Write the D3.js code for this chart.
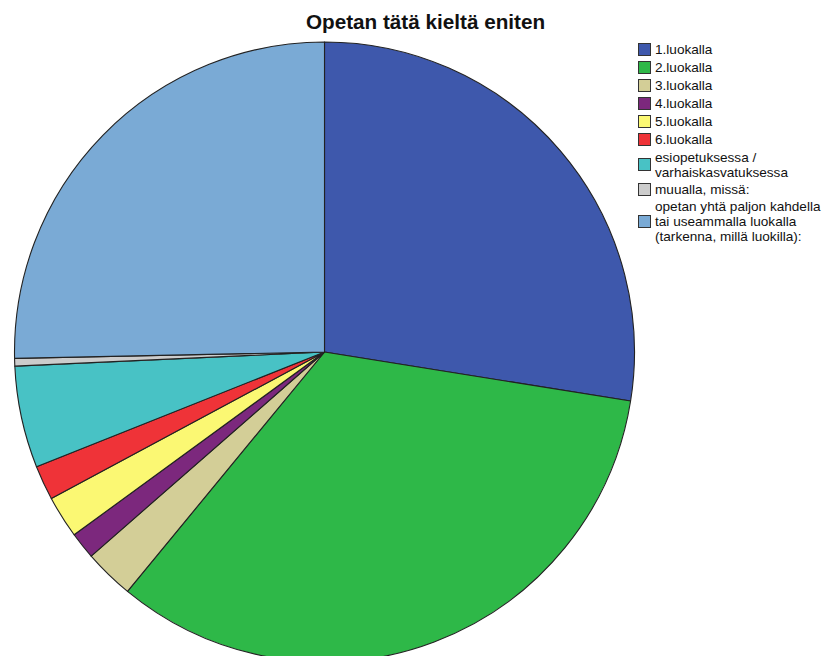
<!DOCTYPE html>
<html>
<head>
<meta charset="utf-8">
<script src="https://cdn.jsdelivr.net/npm/d3@7"></script>
<style>
  body { margin: 0; background: #fff; }
  svg { display: block; font-family: "Liberation Sans", Arial, sans-serif; }
</style>
</head>
<body>
<script>
// data (share of answers, %)
const categories = [
  "1.luokalla",
  "2.luokalla",
  "3.luokalla",
  "4.luokalla",
  "5.luokalla",
  "6.luokalla",
  "esiopetuksessa /\nvarhaiskasvatuksessa",
  "muualla, missä:",
  "opetan yhtä paljon kahdella\ntai useammalla luokalla\n(tarkenna, millä luokilla):"
];
const values = [27.5, 33.4, 2.6, 1.4, 2.2, 1.8, 5.3, 0.4, 25.3];
const colors = ["#3e58ac", "#2eb848", "#d3ce97", "#7c287d", "#fbf873", "#ef3338", "#48c2c5", "#cccccc", "#7aaad5"];

const width = 835, height = 656;
const cx = 324.5, cy = 352, r = 310;

const svg = d3.select("body").append("svg")
    .attr("width", width)
    .attr("height", height);

const data = categories.map((c, i) => ({ name: c, value: values[i], color: colors[i] }));

const pie = d3.pie().sort(null).value(d => d.value);
const arc = d3.arc().innerRadius(0).outerRadius(r);

svg.append("g")
    .attr("transform", `translate(${cx},${cy})`)
  .selectAll("path")
  .data(pie(data))
  .join("path")
    .attr("d", arc)
    .attr("fill", d => d.data.color)
    .attr("stroke", "#222")
    .attr("stroke-width", 1.1)
    .attr("stroke-linejoin", "round");

// title
svg.append("text")
    .attr("x", 425.5)
    .attr("y", 29)
    .attr("text-anchor", "middle")
    .attr("font-size", 20.7)
    .attr("font-weight", "bold")
    .attr("fill", "#111")
    .text("Opetan tätä kieltä eniten");

// legend
const lineH = 15;
const legend = svg.append("g").attr("transform", "translate(638,40)");
let y = 0;
data.forEach(d => {
  const lines = d.name.split("\n");
  const h = 18 + (lines.length - 1) * 14;
  const mid = y + h / 2;
  const g = legend.append("g");
  g.append("rect")
      .attr("x", 0.5)
      .attr("y", mid - 5.5)
      .attr("width", 12)
      .attr("height", 12)
      .attr("fill", d.color)
      .attr("stroke", "#333")
      .attr("stroke-width", 1);
  const t = g.append("text")
      .attr("x", 17)
      .attr("font-size", 13.6)
      .attr("fill", "#111");
  lines.forEach((ln, j) => {
    t.append("tspan")
        .attr("x", 17)
        .attr("y", mid + 5 - (lines.length - 1) * lineH / 2 + j * lineH)
        .text(ln);
  });
  y += h;
});
</script>
</body>
</html>
